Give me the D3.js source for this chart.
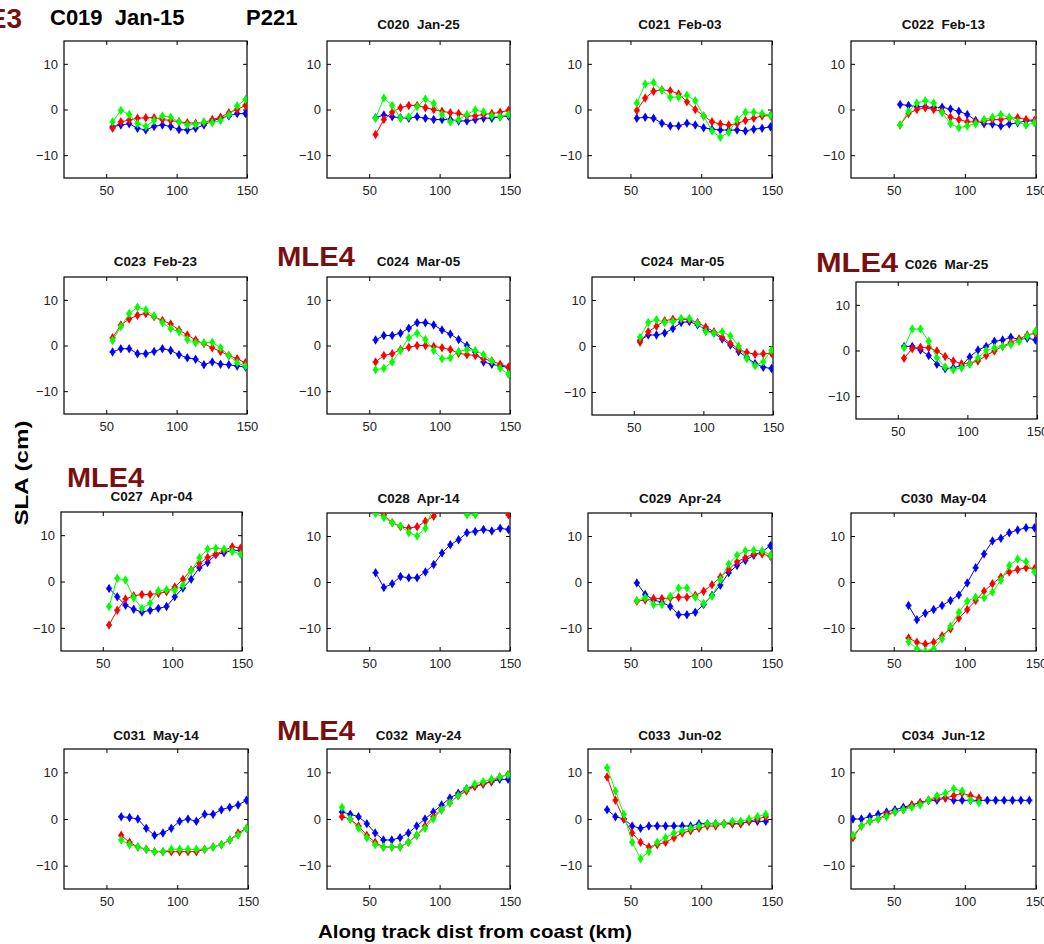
<!DOCTYPE html>
<html>
<head>
<meta charset="utf-8">
<script src="https://cdn.jsdelivr.net/npm/d3@7"></script>
<style>
  body { margin: 0; background: #fff; }
  svg { display: block; font-family: "Liberation Sans", Arial, sans-serif; }
  text { white-space: pre; }
</style>
</head>
<body>
<div id="chart"></div>
<script>
// ---- data ----
const xTicks = [50, 100, 150];
const yTicks = [-10, 0, 10];
const xDomain = [20, 150];
const yDomain = [-15, 15];

const dist = [54.5, 60.4, 66.3, 72.2, 78.1, 84.0, 89.9, 95.8, 101.7, 107.6, 113.5, 119.4, 125.3, 131.2, 137.1, 143.0, 148.9];
const distC032 = [30.6, 36.5, 42.4, 48.3, 54.2, 60.1, 66.0, 71.9, 77.8, 83.7, 89.6, 95.5, 101.4, 107.3, 113.2, 119.1, 125.0, 130.9, 136.8, 142.7, 148.6];
const distC033 = [33.5, 39.4, 45.3, 51.2, 57.1, 63.0, 68.9, 74.8, 80.7, 86.6, 92.5, 98.4, 104.3, 110.2, 116.1, 122.0, 127.9, 133.8, 139.7, 145.6];
const distC034 = [21.4, 27.3, 33.2, 39.1, 45.0, 50.9, 56.8, 62.7, 68.6, 74.5, 80.4, 86.3, 92.2, 98.1, 104.0, 109.9, 115.8, 121.7, 127.6, 133.5, 139.4, 145.3];

const c019Blue  = [-3.8, -3.4, -3.1, -4.1, -4.5, -3.7, -3.4, -3.7, -4.4, -4.5, -4.1, -3.4, -2.5, -1.9, -1.4, -0.9, -0.9];
const c019Red   = [-4.1, -2.7, -2.3, -1.9, -1.8, -1.8, -2.2, -2.4, -2.7, -2.9, -3.0, -2.9, -2.2, -1.7, -0.7, 0.0, 0.9];
const c019Green = [-2.7, -0.2, -1.1, -3.1, -3.7, -2.4, -1.4, -1.7, -2.7, -3.4, -3.3, -2.7, -2.9, -2.4, -1.2, 0.8, 2.2];

const c020Blue  = [-1.8, -1.2, -1.6, -1.8, -1.9, -1.6, -1.9, -2.2, -2.2, -2.2, -2.5, -2.5, -2.2, -1.9, -1.9, -1.6, -1.4];
const c020Red   = [-5.5, -2.2, -0.6, 0.4, 0.9, 0.9, 0.4, 0.0, -0.4, -0.7, -0.9, -1.4, -1.4, -1.1, -0.9, -0.6, -0.2];
const c020Green = [-1.9, 2.5, 0.9, -1.9, -1.6, 0.6, 2.3, 1.3, -1.1, -2.7, -2.2, -1.1, -0.1, -0.5, -1.4, -1.6, -1.1];

const c021Blue  = [-1.9, -1.7, -1.9, -3.0, -3.6, -3.6, -3.0, -3.4, -4.0, -4.3, -4.5, -4.5, -4.5, -4.7, -4.3, -4.1, -3.8];
const c021Red   = [-0.2, 2.5, 4.0, 4.3, 4.1, 3.4, 1.7, 0.0, -1.4, -2.7, -3.2, -3.4, -3.1, -2.4, -1.9, -1.4, -1.3];
const c021Green = [1.4, 5.6, 5.9, 4.2, 2.7, 2.7, 3.1, 1.9, -1.4, -4.7, -6.1, -5.0, -2.2, -0.6, -0.6, -0.9, -1.3];

const c022Blue  = [1.1, 0.9, 0.6, 0.6, 0.4, 0.5, 0.1, -0.4, -1.1, -2.4, -3.1, -3.2, -3.6, -3.2, -2.9, -2.5, -2.5];
const c022Red   = [-3.4, -0.9, 0.0, 0.4, 0.0, -0.4, -1.7, -2.2, -2.7, -2.7, -2.5, -2.2, -2.2, -1.9, -1.8, -2.2, -2.4];
const c022Green = [-3.4, -0.4, 1.4, 1.9, 1.4, -0.7, -3.1, -4.0, -3.6, -3.1, -2.2, -1.7, -1.1, -1.7, -2.7, -3.4, -2.9];

const c023Blue  = [-1.4, -0.7, -0.7, -1.8, -1.8, -1.3, -0.7, -1.1, -2.0, -2.7, -3.0, -4.2, -3.6, -4.1, -4.2, -4.5, -4.7];
const c023Red   = [1.7, 4.5, 5.8, 6.6, 7.0, 6.3, 5.5, 4.7, 3.4, 2.3, 1.2, 0.4, -0.5, -1.3, -2.2, -2.9, -3.8];
const c023Green = [1.1, 4.1, 7.0, 8.4, 7.8, 6.5, 5.0, 3.7, 3.0, 1.3, 0.6, 0.6, 0.7, -0.5, -2.2, -3.8, -4.5];

const c024aBlue  = [1.2, 2.2, 2.2, 2.7, 3.8, 5.0, 5.0, 4.5, 3.4, 2.5, 1.3, 0.0, -1.4, -3.6, -4.1, -4.5, -4.8];
const c024aRed   = [-3.6, -2.2, -1.8, -0.9, -0.4, 0.0, 0.0, -0.2, -0.5, -0.9, -1.7, -2.0, -2.2, -2.9, -3.4, -4.1, -4.7];
const c024aGreen = [-5.3, -5.0, -3.6, -1.1, 1.7, 2.7, 1.3, -1.1, -2.9, -2.7, -1.3, -0.9, -1.1, -2.0, -3.4, -5.0, -6.3];

const c024bBlue  = [1.2, 2.4, 2.4, 2.8, 3.8, 5.1, 5.3, 4.6, 3.5, 2.8, 1.5, 0.2, -1.2, -2.5, -3.8, -4.6, -4.9];
const c024bRed   = [0.8, 3.1, 4.3, 5.5, 5.8, 5.8, 5.7, 5.1, 4.1, 3.1, 1.9, 0.6, -0.7, -1.4, -1.8, -1.7, -1.6];
const c024bGreen = [1.9, 5.1, 5.7, 5.1, 5.3, 6.0, 6.0, 4.9, 3.1, 2.8, 3.1, 2.2, 0.0, -2.7, -4.3, -3.4, -0.9];

const c026Blue  = [0.9, 0.9, 0.1, -1.1, -3.0, -4.0, -3.8, -3.3, -1.4, 0.1, 0.9, 2.0, 2.3, 2.9, 2.4, 2.7, 2.3];
const c026Red   = [-1.7, 0.4, 0.7, 0.6, -0.1, -1.3, -2.3, -2.9, -2.8, -2.3, -1.1, -0.1, 0.9, 1.8, 2.5, 3.4, 3.8];
const c026Green = [0.6, 4.7, 4.7, 2.0, -1.6, -3.6, -4.2, -3.8, -3.0, -1.6, 0.0, 0.6, 0.9, 1.3, 2.0, 3.1, 4.2];

const c027Blue  = [-1.5, -3.3, -5.1, -6.0, -6.6, -6.2, -5.8, -5.4, -3.3, -1.4, 0.5, 3.0, 4.1, 5.8, 6.2, 6.7, 6.7];
const c027Red   = [-9.4, -6.2, -3.8, -3.1, -2.8, -2.8, -2.6, -2.2, -1.2, 0.5, 2.5, 3.9, 5.2, 5.9, 6.7, 7.5, 7.2];
const c027Green = [-5.4, 0.7, 0.3, -3.5, -5.8, -4.7, -2.0, -1.8, -1.9, -0.8, 2.3, 5.1, 7.0, 7.2, 7.0, 6.5, 5.9];

const c028Blue  = [2.0, -1.2, -0.4, 1.2, 0.9, 0.9, 2.2, 3.8, 6.3, 8.1, 9.2, 10.7, 11.0, 11.4, 11.1, 11.7, 11.4];
const c028Red   = [15.6, 14.6, 12.9, 12.0, 11.7, 12.0, 13.2, 14.3, 16.0, 17.0, 17.5, 17.0, 16.5, 16.5, 16.0, 15.8, 14.6];
const c028Green = [14.9, 14.0, 12.9, 12.2, 10.7, 10.0, 11.7, 16.5, 18.0, 18.0, 17.0, 14.6, 14.6, 16.0, 17.0, 17.0, 16.5];

const c029Blue  = [-0.2, -2.7, -3.9, -4.4, -5.3, -7.1, -7.1, -6.6, -4.9, -2.9, -0.7, 2.0, 3.6, 4.7, 5.8, 6.6, 7.9];
const c029Red   = [-4.2, -3.9, -3.6, -3.6, -3.5, -3.3, -3.3, -2.9, -2.0, -0.6, 1.1, 2.7, 4.4, 5.3, 6.1, 6.1, 5.6];
const c029Green = [-4.0, -3.4, -4.9, -4.9, -3.1, -1.3, -1.3, -3.3, -4.7, -3.1, 0.5, 3.9, 5.8, 6.8, 6.9, 6.8, 5.8];

const c030Blue  = [null, -5.1, -8.2, -6.8, -6.0, -5.1, -4.0, -2.8, -0.2, 3.1, 6.1, 8.9, 9.5, 10.7, 11.3, 11.8, 11.8];
const c030Red   = [null, -12.2, -13.1, -13.5, -13.1, -11.7, -10.2, -7.9, -6.0, -4.0, -2.0, -0.4, 1.1, 2.2, 2.7, 3.1, 2.9];
const c030Green = [null, -13.0, -14.5, -15.0, -14.5, -12.4, -9.6, -6.6, -4.2, -3.3, -3.4, -2.2, 0.4, 3.6, 5.0, 4.4, 2.2];

const c031Blue  = [null, 0.5, 0.3, 0.0, -2.0, -3.5, -3.0, -2.0, -0.5, 0.0, -0.5, 1.0, 1.0, 2.0, 2.5, 3.0, 4.0];
const c031Red   = [null, -3.5, -5.0, -6.0, -6.5, -7.0, -7.0, -7.0, -7.0, -7.0, -7.0, -6.5, -6.0, -5.5, -4.5, -3.0, -2.0];
const c031Green = [null, -4.5, -5.5, -6.0, -6.5, -7.0, -7.0, -6.5, -6.5, -6.5, -6.5, -6.5, -6.0, -5.5, -4.5, -3.5, -2.0];

const c032Blue  = [1.5, 1.0, 0.5, -1.0, -3.0, -4.5, -4.5, -4.0, -3.0, -1.5, 0.0, 1.5, 3.0, 4.5, 5.5, 6.5, 7.0, 7.5, 8.0, 8.5, 8.5];
const c032Red   = [0.5, 0.0, -1.5, -3.5, -5.0, -6.0, -6.0, -6.0, -5.0, -3.5, -1.5, 0.5, 2.0, 3.5, 5.0, 6.0, 7.0, 7.5, 8.0, 9.0, 9.5];
const c032Green = [2.5, 0.0, -2.0, -4.0, -5.5, -6.0, -6.0, -6.0, -5.0, -3.5, -2.0, 0.0, 2.0, 3.5, 5.0, 6.5, 7.5, 8.0, 8.5, 9.0, 9.5];

const c033Blue  = [2.0, 0.5, 0.0, -1.5, -2.0, -1.5, -1.5, -1.5, -1.5, -1.5, -1.5, -1.0, -1.0, -1.0, -1.0, -1.0, -1.0, -0.5, -0.5, -0.5];
const c033Red   = [9.0, 4.0, 0.0, -3.0, -5.0, -6.0, -5.5, -5.0, -4.0, -3.0, -2.5, -2.0, -1.5, -1.5, -1.0, -1.0, -1.0, -0.5, 0.0, 0.5];
const c033Green = [11.0, 6.0, 1.0, -5.0, -8.5, -7.0, -5.0, -4.0, -3.0, -2.5, -2.0, -1.5, -1.0, -1.0, -1.0, -0.5, -0.5, 0.0, 0.5, 1.0];

const c034Blue  = [0.0, 0.0, 0.5, 1.0, 1.5, 2.0, 2.5, 3.0, 3.5, 4.0, 4.0, 4.5, 4.0, 4.0, 4.0, 4.0, 4.0, 4.0, 4.0, 4.0, 4.0, 4.0];
const c034Red   = [-4.0, -1.5, -0.5, 0.0, 1.0, 1.5, 2.0, 3.0, 3.5, 4.0, 4.5, 4.5, 5.0, 5.5, 5.0, 4.5];
const c034Green = [-3.5, -1.5, -0.5, 0.0, 0.5, 1.5, 2.0, 2.5, 3.0, 4.0, 5.0, 5.5, 6.5, 6.0, 4.0, 3.5];

const titles = ["", "C020  Jan-25", "C021  Feb-03", "C022  Feb-13",
                "C023  Feb-23", "C024  Mar-05", "C024  Mar-05", "C026  Mar-25",
                "C027  Apr-04", "C028  Apr-14", "C029  Apr-24", "C030  May-04",
                "C031  May-14", "C032  May-24", "C033  Jun-02", "C034  Jun-12"];

const seriesColors = { blue: "#0000ff", red: "#ff0000", green: "#00ff00" };

// panel table built from the arrays above
const panelData = [
  [dist, c019Blue, c019Red, c019Green],
  [dist, c020Blue, c020Red, c020Green],
  [dist, c021Blue, c021Red, c021Green],
  [dist, c022Blue, c022Red, c022Green],
  [dist, c023Blue, c023Red, c023Green],
  [dist, c024aBlue, c024aRed, c024aGreen],
  [dist, c024bBlue, c024bRed, c024bGreen],
  [dist, c026Blue, c026Red, c026Green],
  [dist, c027Blue, c027Red, c027Green],
  [dist, c028Blue, c028Red, c028Green],
  [dist, c029Blue, c029Red, c029Green],
  [dist, c030Blue, c030Red, c030Green],
  [dist, c031Blue, c031Red, c031Green],
  [distC032, c032Blue, c032Red, c032Green],
  [distC033, c033Blue, c033Red, c033Green],
  [distC034, c034Blue, c034Red, c034Green]
];

// ---- layout: plot boxes [x0, y0, x1, y1] and title baselines ----
const boxes = [
  [64, 41, 247, 178], [327, 41, 510, 178], [588, 41, 772, 178], [851, 41, 1036, 178],
  [64, 277, 247, 414], [327, 277, 510, 414], [592, 277, 773, 415], [856, 282, 1037, 419],
  [61, 512, 242, 651], [327, 513, 510, 651], [588, 513, 772, 651], [851, 513, 1036, 651],
  [64, 749, 248, 889], [327, 749, 510, 889], [588, 749, 772, 889], [851, 749, 1036, 889]
];
const titleY = [29, 29, 29, 29, 266, 266, 266, 269, 501, 503, 503, 503, 740, 740, 740, 740];

const W = 1044, H = 944;
const svg = d3.select("#chart").append("svg")
  .attr("width", W).attr("height", H);

const diamond = d3.symbol().type(d3.symbolDiamond).size(26);
const cross = d3.symbol().type(d3.symbolCross).size(22);

panelData.forEach((pd, i) => {
  const [x0, y0, x1, y1] = boxes[i];
  const xs = pd[0];
  const x = d3.scaleLinear().domain(xDomain).range([x0, x1]);
  const y = d3.scaleLinear().domain(yDomain).range([y1, y0]);
  const g = svg.append("g");

  const clipId = "clip" + i;
  svg.append("clipPath").attr("id", clipId)
    .append("rect").attr("x", x0).attr("y", y0)
    .attr("width", x1 - x0).attr("height", y1 - y0);

  // box
  g.append("rect").attr("x", x0).attr("y", y0)
    .attr("width", x1 - x0).attr("height", y1 - y0)
    .attr("fill", "#fff").attr("stroke", "#000").attr("stroke-width", 1.2);

  // axes: ticks inward on all sides (matlab style)
  const tl = 4;
  g.append("g").attr("transform", `translate(0,${y1})`)
    .call(d3.axisBottom(x).tickValues(xTicks).tickSize(-tl).tickPadding(8))
    .call(a => a.select(".domain").remove());
  g.append("g").attr("transform", `translate(0,${y0})`)
    .call(d3.axisTop(x).tickValues(xTicks).tickSize(-tl).tickFormat(""))
    .call(a => a.select(".domain").remove());
  g.append("g").attr("transform", `translate(${x0},0)`)
    .call(d3.axisLeft(y).tickValues(yTicks).tickSize(-tl).tickPadding(6))
    .call(a => a.select(".domain").remove());
  g.append("g").attr("transform", `translate(${x1},0)`)
    .call(d3.axisRight(y).tickValues(yTicks).tickSize(-tl).tickFormat(""))
    .call(a => a.select(".domain").remove());
  g.selectAll(".tick line").attr("stroke", "#000");
  g.selectAll(".tick text")
    .attr("font-family", "'Liberation Sans', Arial, sans-serif")
    .attr("font-size", 13).attr("fill", "#222");

  if (titles[i]) {
    svg.append("text")
      .attr("x", (x0 + x1) / 2).attr("y", titleY[i])
      .attr("text-anchor", "middle")
      .attr("font-size", 13.5).attr("font-weight", "bold")
      .attr("fill", "#111")
      .text(titles[i]);
  }

  const plot = g.append("g").attr("clip-path", `url(#${clipId})`);
  const names = ["blue", "red", "green"];
  names.forEach((name, k) => {
    const vals = pd[k + 1];
    const pts = vals.map((v, j) => ({ d: xs[j], v })).filter(p => p.v != null);
    const line = d3.line().x(p => x(p.d)).y(p => y(p.v));
    plot.append("path").datum(pts)
      .attr("fill", "none").attr("stroke", seriesColors[name])
      .attr("stroke-width", 1).attr("d", line);
    const m = plot.selectAll(null).data(pts).enter().append("g")
      .attr("transform", p => `translate(${x(p.d)},${y(p.v)})`)
      .attr("fill", seriesColors[name]);
    m.append("path").attr("d", diamond);
    m.append("path").attr("d", cross).attr("opacity", 0.6);
  });
});

// ---- headline texts ----
svg.append("text").attr("x", 50).attr("y", 25)
  .attr("font-size", 22).attr("font-weight", "bold").attr("fill", "#000")
  .text("C019  Jan-15");
svg.append("text").attr("x", 246).attr("y", 25)
  .attr("font-size", 22).attr("font-weight", "bold").attr("fill", "#000")
  .text("P221");

const mleColor = "#7b0e0e";
svg.append("text").attr("x", 22).attr("y", 28)
  .attr("text-anchor", "end")
  .attr("font-size", 28).attr("font-weight", "bold").attr("fill", mleColor)
  .text("MLE3");
const mleMarks = [[277, 266, 78], [816, 272, 82], [67, 487, 77], [277, 740, 78]];
mleMarks.forEach(([mx, my, mw]) => {
  svg.append("text").attr("x", mx).attr("y", my)
    .attr("font-size", 28).attr("font-weight", "bold").attr("fill", mleColor)
    .attr("textLength", mw).attr("lengthAdjust", "spacingAndGlyphs")
    .text("MLE4");
});

// axis titles
svg.append("text")
  .attr("transform", "translate(28,473) rotate(-90)")
  .attr("text-anchor", "middle")
  .attr("font-size", 19).attr("font-weight", "bold").attr("fill", "#000")
  .attr("textLength", 105).attr("lengthAdjust", "spacingAndGlyphs")
  .text("SLA (cm)");
svg.append("text").attr("x", 475).attr("y", 938)
  .attr("text-anchor", "middle")
  .attr("font-size", 19).attr("font-weight", "bold").attr("fill", "#000")
  .attr("textLength", 314).attr("lengthAdjust", "spacingAndGlyphs")
  .text("Along track dist from coast (km)");
</script>
</body>
</html>
